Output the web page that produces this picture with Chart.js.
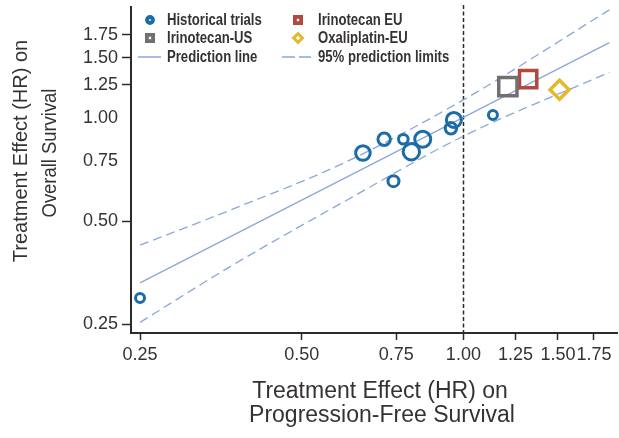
<!DOCTYPE html>
<html>
<head>
<meta charset="utf-8">
<title>HR PFS vs OS</title>
<script src="https://cdn.jsdelivr.net/npm/chart.js@4.4.1/dist/chart.umd.min.js"></script>
<style>
  html, body { margin: 0; padding: 0; background: #fff; }
  #wrap { width: 619px; height: 438px; }
</style>
</head>
<body>
<div id="wrap"><canvas id="hrChart" width="619" height="438"></canvas></div>
<script>
// Hazard ratios: progression-free survival (x) vs overall survival (y)
const histPFS = [0.25, 0.65, 0.712, 0.773, 0.80, 0.84, 0.741, 0.948, 0.96, 1.135];
const histOS = [0.298, 0.79, 0.867, 0.867, 0.797, 0.867, 0.654, 0.933, 0.987, 1.02];
const histWeight = [1.0, 2.4, 1.85, 1.15, 2.85, 2.75, 1.5, 1.6, 2.5, 1.0]; // relative trial size

const irinoUS = [1.21, 1.235];
const irinoEU = [1.32, 1.30];
const oxaliEU = [1.51, 1.21];

// regression line and 95% prediction limits
const lineX = [0.25, 1.87];
const lineY = [0.33, 1.66];
const limitX = [0.25, 0.37, 0.6, 1.0, 1.87];
const upperY = [0.425, 0.54, 0.74, 1.13, 2.07];
const lowerY = [0.253, 0.37, 0.57, 0.885, 1.36];

const tickValues = [0.25, 0.5, 0.75, 1.0, 1.25, 1.5, 1.75];
const yNoMark = [0.75, 1.0];

const BLUE = 'rgb(28,108,168)';
const GRAY = 'rgb(112,112,112)';
const RED = 'rgb(178,72,62)';
const GOLD = 'rgb(226,186,44)';
const LINE = 'rgb(138,168,216)';
const INK = '#2a2a2a';
const TEXT = '#363232';

function toPoints(xs, ys) {
  return xs.map((x, i) => ({ x: x, y: ys[i] }));
}

const legendItems = [
  { label: 'Historical trials', kind: 'circle', color: BLUE, col: 0, row: 0 },
  { label: 'Irinotecan EU', kind: 'square', color: RED, col: 1, row: 0 },
  { label: 'Irinotecan-US', kind: 'square', color: GRAY, col: 0, row: 1 },
  { label: 'Oxaliplatin-EU', kind: 'diamond', color: GOLD, col: 1, row: 1 },
  { label: 'Prediction line', kind: 'line', color: LINE, col: 0, row: 2 },
  { label: '95% prediction limits', kind: 'dash', color: LINE, col: 1, row: 2 }
];

// draws text squeezed horizontally, for the condensed look
function narrowText(ctx, text, x, y, squeeze) {
  ctx.save();
  ctx.translate(x, y);
  ctx.scale(squeeze, 1);
  ctx.fillText(text, 0, 0);
  ctx.restore();
}

const refLine = {
  id: 'refLine',
  beforeDatasetsDraw(chart) {
    const { ctx, chartArea, scales } = chart;
    const x = Math.round(scales.x.getPixelForValue(1)) + 0.5;
    ctx.save();
    ctx.strokeStyle = INK;
    ctx.lineWidth = 1.5;
    ctx.setLineDash([4, 2.5]);
    ctx.beginPath();
    ctx.moveTo(x, chartArea.top - 2);
    ctx.lineTo(x, chartArea.bottom);
    ctx.stroke();
    ctx.restore();
  }
};

const extras = {
  id: 'extras',
  afterDraw(chart) {
    const ctx = chart.ctx;
    ctx.save();

    // axis titles
    ctx.fillStyle = TEXT;
    ctx.textAlign = 'center';
    ctx.textBaseline = 'alphabetic';
    ctx.font = '23px "Liberation Sans", Arial, sans-serif';
    ctx.fillText('Treatment Effect (HR) on', 380, 398);
    ctx.fillText('Progression-Free Survival', 382, 422);

    ctx.font = '20px "Liberation Sans", Arial, sans-serif';
    ctx.save();
    ctx.translate(27, 151);
    ctx.rotate(-Math.PI / 2);
    ctx.fillText('Treatment Effect (HR) on', 0, 0);
    ctx.restore();
    ctx.save();
    ctx.translate(56, 153);
    ctx.rotate(-Math.PI / 2);
    narrowText(ctx, 'Overall Survival', 0, 0, 0.92);
    ctx.restore();

    // legend, two columns by three rows
    const markX = [150, 298];
    const textX = [167, 318];
    const rowY = [20, 38, 57];
    ctx.textBaseline = 'middle';
    ctx.font = 'bold 16px "Liberation Sans", Arial, sans-serif';
    legendItems.forEach((item) => {
      const mx = markX[item.col];
      const my = rowY[item.row];
      ctx.strokeStyle = item.color;
      ctx.setLineDash([]);
      if (item.kind === 'circle') {
        ctx.lineWidth = 4;
        ctx.beginPath();
        ctx.arc(mx, my, 2.9, 0, Math.PI * 2);
        ctx.stroke();
      } else if (item.kind === 'square') {
        ctx.lineWidth = 3.8;
        ctx.strokeRect(mx - 3.1, my - 3.1, 6.2, 6.2);
      } else if (item.kind === 'diamond') {
        ctx.lineWidth = 3;
        ctx.beginPath();
        ctx.moveTo(mx, my - 4.4);
        ctx.lineTo(mx + 4.4, my);
        ctx.lineTo(mx, my + 4.4);
        ctx.lineTo(mx - 4.4, my);
        ctx.closePath();
        ctx.stroke();
      } else if (item.kind === 'line') {
        ctx.lineWidth = 1.5;
        ctx.beginPath();
        ctx.moveTo(138, my);
        ctx.lineTo(161, my);
        ctx.stroke();
      } else {
        ctx.lineWidth = 1.5;
        ctx.setLineDash([13, 4]);
        ctx.beginPath();
        ctx.moveTo(282, my);
        ctx.lineTo(311, my);
        ctx.stroke();
      }
      ctx.fillStyle = TEXT;
      ctx.textAlign = 'left';
      narrowText(ctx, item.label, textX[item.col], my + 1, 0.82);
    });
    ctx.restore();
  }
};

const tickFont = { family: '"Liberation Sans", Arial, sans-serif', size: 18 };

new Chart(document.getElementById('hrChart'), {
  type: 'scatter',
  data: {
    datasets: [
      {
        label: 'Historical trials',
        data: toPoints(histPFS, histOS),
        pointStyle: 'circle',
        pointRadius: histWeight.map((w) => 2.5 + 2 * w),
        borderColor: BLUE,
        backgroundColor: 'rgba(255,255,255,0)',
        pointBorderWidth: 3
      },
      {
        label: 'Irinotecan-US',
        data: toPoints([irinoUS[0]], [irinoUS[1]]),
        pointStyle: 'rect',
        pointRadius: 12.9,
        borderColor: GRAY,
        backgroundColor: 'rgba(255,255,255,0)',
        pointBorderWidth: 3.5
      },
      {
        label: 'Irinotecan EU',
        data: toPoints([irinoEU[0]], [irinoEU[1]]),
        pointStyle: 'rect',
        pointRadius: 12.2,
        borderColor: RED,
        backgroundColor: 'rgba(255,255,255,0)',
        pointBorderWidth: 3.5
      },
      {
        label: 'Oxaliplatin-EU',
        data: toPoints([oxaliEU[0]], [oxaliEU[1]]),
        pointStyle: 'rectRot',
        pointRadius: 9.5,
        borderColor: GOLD,
        backgroundColor: 'rgba(255,255,255,0)',
        pointBorderWidth: 3.5
      },
      {
        label: 'Prediction line',
        data: toPoints(lineX, lineY),
        showLine: true,
        pointRadius: 0,
        borderColor: LINE,
        borderWidth: 1.3
      },
      {
        label: 'Upper 95% limit',
        data: toPoints(limitX, upperY),
        showLine: true,
        cubicInterpolationMode: 'monotone',
        pointRadius: 0,
        borderColor: LINE,
        borderWidth: 1.3,
        borderDash: [9, 5]
      },
      {
        label: 'Lower 95% limit',
        data: toPoints(limitX, lowerY),
        showLine: true,
        cubicInterpolationMode: 'monotone',
        pointRadius: 0,
        borderColor: LINE,
        borderWidth: 1.3,
        borderDash: [9, 5]
      }
    ]
  },
  options: {
    responsive: false,
    devicePixelRatio: 1,
    animation: false,
    events: [],
    layout: { autoPadding: false, padding: { left: 0, right: 2, top: 7, bottom: 0 } },
    plugins: {
      legend: { display: false },
      tooltip: { enabled: false }
    },
    scales: {
      x: {
        type: 'logarithmic',
        min: 0.2405,
        max: 1.932,
        afterBuildTicks: (scale) => { scale.ticks = tickValues.map((v) => ({ value: v })); },
        afterFit: (scale) => {
          scale.height = 105;
          scale.paddingLeft = 0;
          scale.paddingRight = 0;
        },
        border: { display: true, color: INK, width: 2 },
        grid: { drawOnChartArea: false, drawTicks: true, tickLength: 7, tickColor: INK, tickWidth: 1.5 },
        ticks: {
          autoSkip: false,
          maxRotation: 0,
          padding: 4,
          color: TEXT,
          font: tickFont,
          callback: (v) => Number(v).toFixed(2)
        }
      },
      y: {
        type: 'logarithmic',
        min: 0.2355,
        max: 2.11,
        afterBuildTicks: (scale) => { scale.ticks = tickValues.map((v) => ({ value: v })); },
        afterFit: (scale) => {
          scale.width = 131;
          scale.paddingTop = 0;
          scale.paddingBottom = 0;
        },
        border: { display: true, color: INK, width: 2 },
        grid: {
          drawOnChartArea: false,
          drawTicks: true,
          tickLength: 9,
          tickWidth: 1.5,
          tickColor: (c) => (c.tick && yNoMark.includes(c.tick.value) ? 'rgba(0,0,0,0)' : INK)
        },
        ticks: {
          autoSkip: false,
          padding: 4,
          color: TEXT,
          font: tickFont,
          callback: (v) => Number(v).toFixed(2)
        }
      }
    }
  },
  plugins: [refLine, extras]
});
</script>
</body>
</html>
